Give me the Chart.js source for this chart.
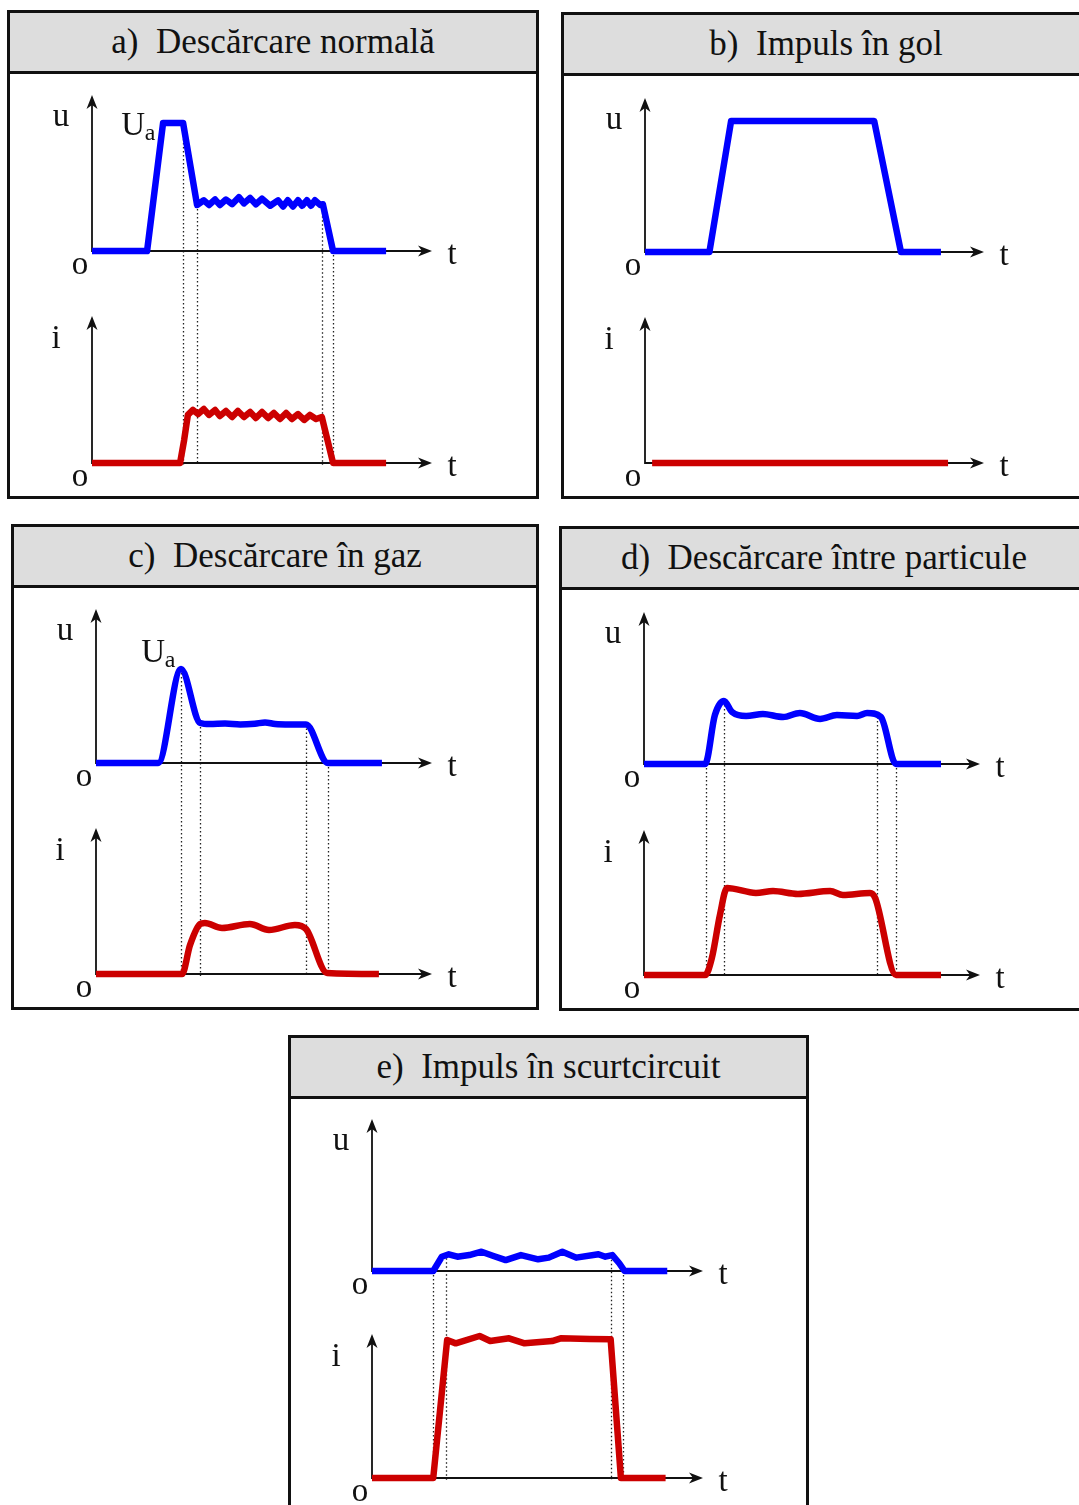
<!DOCTYPE html>
<html>
<head>
<meta charset="utf-8">
<script src="https://cdn.jsdelivr.net/npm/chart.js@4.4.1/dist/chart.umd.min.js"></script>
<style>
  body { margin: 0; width: 1079px; height: 1505px; overflow: hidden; background: #fff; position: relative; font-family: "Liberation Serif", serif; }
  .panel { position: absolute; box-sizing: border-box; border: 3px solid #111; background: #fff; }
  .panel .head { box-sizing: border-box; height: 61px; background: #dddddd; border-bottom: 3px solid #111;
    text-align: center; font-size: 35px; line-height: 58px; color: #111; white-space: pre; }
  canvas.plot { position: absolute; }
</style>
</head>
<body>
<script>
// t: 0 = origin, 100 = arrow tip; u, i: 0 = baseline, 100 = arrow tip

// a) normal discharge
const aUt = [0, 16.2, 20.9, 26.8, 30.9, 32.9, 34.4, 36.2, 37.6, 39.4, 41.2, 43.2, 44.7, 46.5, 48.2, 50.0, 52.4, 54.7, 56.2, 57.6, 59.1, 60.6, 61.8, 63.2, 64.4, 65.6, 67.1, 67.9, 70.9, 86.5];
const aUv = [0, 0, 82, 82, 29.5, 32.5, 29.5, 33, 29.5, 33, 30, 34.5, 30.5, 34, 30, 33.5, 29, 32.5, 28.5, 32.5, 28.5, 32.5, 29, 32.5, 29, 32.5, 29.5, 30, 0, 0];
const aIt = [0, 25.9, 27.1, 28.2, 29.7, 31.2, 32.9, 34.4, 36.2, 37.6, 39.4, 41.2, 42.9, 44.7, 46.5, 48.2, 50.0, 51.8, 53.5, 55.3, 57.1, 58.8, 60.6, 62.4, 64.1, 65.9, 67.6, 70.9, 86.5];
const aIv = [0, 0, 15.6, 32.7, 36.1, 33.3, 36.7, 32.7, 36.1, 32.0, 35.4, 31.3, 35.4, 31.3, 34.7, 30.6, 34.7, 30.6, 34.0, 29.9, 34.0, 29.9, 33.3, 29.3, 32.7, 29.9, 31.3, 0, 0];
const aGuideT = [26.8, 30.9, 67.6, 70.9];
const aGuideU = [82, 29.5, 30, 0];
const aUaLabel = [12.1, 80];

// b) open-circuit pulse
const bUt = [0, 19.0, 25.4, 67.6, 75.5, 87.3];
const bUv = [0, 0, 85.1, 85.1, 0, 0];
const bIt = [2.1, 89.4];
const bIv = [0, 0];

// c) gas discharge
const cUt = [0, 18.5, 25.3, 31.0, 33.9, 38.4, 42.9, 47.3, 50.3, 53.3, 57.7, 62.5, 69.0, 85.1];
const cUv = [0, 0, 61.0, 26.0, 25.3, 25.6, 25.0, 25.5, 26.3, 25.3, 25.0, 25.0, 0, 0];
const cIt = [0, 25.6, 28.0, 31.0, 32.4, 37.5, 45.8, 51.5, 59.2, 62.5, 68.8, 84.2];
const cIv = [0, 0, 19.9, 34.2, 34.9, 31.5, 34.2, 30.1, 33.6, 30.8, 0.7, 0];
const cGuideT = [25.3, 31.0, 62.5, 69.0];
const cGuideU = [61, 26, 25, 0];
const cUaLabel = [17.0, 71.4];

// d) discharge between particles
const dUt = [0, 18.2, 21.1, 23.8, 26.2, 30.4, 35.4, 41.4, 46.4, 52.4, 57.4, 63.4, 66.4, 70.5, 75.0, 88.4];
const dUv = [0, 0, 32.2, 41.4, 34.2, 31.6, 32.9, 30.9, 33.6, 29.6, 32.2, 31.6, 33.6, 30.9, 0, 0];
const dIt = [0, 18.2, 20.2, 22.6, 24.7, 33.3, 38.4, 45.8, 55.4, 59.2, 67.3, 68.8, 75.0, 88.4];
const dIv = [0, 0, 11.7, 41.4, 60.0, 56.6, 57.9, 55.9, 57.9, 55.2, 56.6, 53.1, 0, 0];
const dGuideT = [18.6, 23.8, 69.3, 75.0];
const dGuideU = [0, 41.4, 31, 0];

// e) short-circuit pulse
const eUt = [0, 18.5, 21.1, 23.2, 25.8, 29.4, 33.1, 36.7, 40.4, 45.0, 50.2, 53.4, 57.5, 61.7, 68.4, 70.5, 72.6, 74.7, 76.3, 89.2];
const eUv = [0, 0, 9.4, 11.0, 9.4, 10.5, 12.7, 9.9, 7.2, 10.5, 7.7, 8.8, 12.7, 8.8, 11.0, 9.4, 10.5, 5.1, 0, 0];
const eIt = [0, 18.5, 22.7, 25.3, 32.5, 35.7, 41.4, 46.1, 54.4, 57.0, 65.8, 72.1, 75.2, 88.7];
const eIv = [0, 0, 95.8, 93.5, 98.6, 95.1, 97.0, 93.5, 95.1, 97.0, 96.5, 96.3, 0, 0];
const eGuideT = [18.3, 22.4, 72.3, 75.7];
const eGuideU = [0, 11, 10, 0];

const titles = ['a)  Descărcare normală', 'b)  Impuls în gol', 'c)  Descărcare în gaz',
                'd)  Descărcare între particule', 'e)  Impuls în scurtcircuit'];

const panels = [
  { title: titles[0], box: [7, 10, 532, 489], x0: 92, xTip: 432, uTop: 95, uBase: 251, iTop: 316, iBase: 463,
    uT: aUt, uV: aUv, iT: aIt, iV: aIv, gT: aGuideT, gU: aGuideU, ua: aUaLabel, smooth: false },
  { title: titles[1], box: [561, 12, 530, 487], x0: 645, xTip: 984, uTop: 98, uBase: 252, iTop: 317, iBase: 463,
    uT: bUt, uV: bUv, iT: bIt, iV: bIv, gT: [], gU: [], ua: null, smooth: false },
  { title: titles[2], box: [11, 524, 528, 486], x0: 96, xTip: 432, uTop: 609, uBase: 763, iTop: 828, iBase: 974,
    uT: cUt, uV: cUv, iT: cIt, iV: cIv, gT: cGuideT, gU: cGuideU, ua: cUaLabel, smooth: true },
  { title: titles[3], box: [559, 526, 530, 485], x0: 644, xTip: 980, uTop: 612, uBase: 764, iTop: 830, iBase: 975,
    uT: dUt, uV: dUv, iT: dIt, iV: dIv, gT: dGuideT, gU: dGuideU, ua: null, smooth: true },
  { title: titles[4], box: [288, 1035, 521, 480], x0: 372, xTip: 703, uTop: 1119, uBase: 1271, iTop: 1334, iBase: 1478,
    uT: eUt, uV: eUv, iT: eIt, iV: eIv, gT: eGuideT, gU: eGuideU, ua: null, smooth: false }
];

const INK = '#111';
const FONT = '33px "Liberation Serif", "Times New Roman", serif';

function arrowHead(ctx, x, y, dir) {
  ctx.beginPath();
  if (dir === 'up') {
    ctx.moveTo(x, y); ctx.lineTo(x - 5.5, y + 14); ctx.lineTo(x, y + 10); ctx.lineTo(x + 5.5, y + 14);
  } else {
    ctx.moveTo(x, y); ctx.lineTo(x - 14, y - 5.5); ctx.lineTo(x - 10, y); ctx.lineTo(x - 14, y + 5.5);
  }
  ctx.closePath();
  ctx.fill();
}

const axesPlugin = {
  id: 'uiAxes',
  beforeDatasetsDraw(chart, args, opts) {
    const ctx = chart.ctx;
    const x = chart.scales.x, yu = chart.scales.yu, yi = chart.scales.yi;
    const x0 = x.getPixelForValue(0), x1 = x.getPixelForValue(100);
    ctx.save();
    // dotted guides from the u curve down to the i baseline
    ctx.strokeStyle = '#222';
    ctx.lineWidth = 1.3;
    ctx.setLineDash([1.5, 2.5]);
    opts.gT.forEach((t, k) => {
      const gx = Math.round(x.getPixelForValue(t)) + 0.5;
      ctx.beginPath();
      ctx.moveTo(gx, yu.getPixelForValue(opts.gU[k]));
      ctx.lineTo(gx, yi.getPixelForValue(0) + 2);
      ctx.stroke();
    });
    ctx.setLineDash([]);
    // the two coordinate systems
    ctx.strokeStyle = INK;
    ctx.fillStyle = INK;
    ctx.lineWidth = 1.8;
    [yu, yi].forEach(s => {
      const yb = s.getPixelForValue(0), yt = s.getPixelForValue(100);
      ctx.beginPath();
      ctx.moveTo(x0, yt + 6); ctx.lineTo(x0, yb);
      ctx.lineTo(x1 - 6, yb);
      ctx.stroke();
      arrowHead(ctx, x0, yt, 'up');
      arrowHead(ctx, x1, yb, 'right');
    });
    ctx.restore();
  },
  afterDraw(chart, args, opts) {
    const ctx = chart.ctx;
    const x = chart.scales.x, yu = chart.scales.yu, yi = chart.scales.yi;
    const x0 = x.getPixelForValue(0), x1 = x.getPixelForValue(100);
    ctx.save();
    ctx.fillStyle = INK;
    ctx.font = FONT;
    ctx.textAlign = 'center';
    ctx.textBaseline = 'middle';
    ctx.fillText('u', x0 - 31, yu.getPixelForValue(100) + 22);
    ctx.fillText('i', x0 - 36, yi.getPixelForValue(100) + 23);
    [yu, yi].forEach(s => {
      const yb = s.getPixelForValue(0);
      ctx.fillText('o', x0 - 12, yb + 14);
      ctx.fillText('t', x1 + 20, yb + 4);
    });
    if (opts.ua) {
      const ux = x.getPixelForValue(opts.ua[0]), uy = yu.getPixelForValue(opts.ua[1]);
      ctx.fillText('U', ux, uy);
      ctx.font = '24px "Liberation Serif", "Times New Roman", serif';
      ctx.fillText('a', ux + 17, uy + 8);
    }
    ctx.restore();
  }
};

function pts(ts, vs) {
  return ts.map((t, k) => ({ x: t, y: vs[k] }));
}

panels.forEach(p => {
  const [bl, bt, bw, bh] = p.box;
  const panel = document.createElement('div');
  panel.className = 'panel';
  panel.style.left = bl + 'px';
  panel.style.top = bt + 'px';
  panel.style.width = bw + 'px';
  panel.style.height = bh + 'px';
  const head = document.createElement('div');
  head.className = 'head';
  head.textContent = p.title;
  panel.appendChild(head);
  document.body.appendChild(panel);

  const cl = bl + 3, ct = bt + 3 + 61, cw = bw - 6, ch = bt + bh - 3 - ct;
  const canvas = document.createElement('canvas');
  canvas.className = 'plot';
  canvas.width = cw;
  canvas.height = ch;
  canvas.style.left = cl + 'px';
  canvas.style.top = ct + 'px';
  document.body.appendChild(canvas);

  const pxU = (p.uBase - p.uTop) / 100;
  const pxI = (p.iBase - p.iTop) / 100;
  const lineStyle = {
    borderWidth: 6.5,
    pointRadius: 0,
    fill: false,
    clip: false,
    borderCapStyle: 'butt',
    borderJoinStyle: 'round',
    tension: 0,
    cubicInterpolationMode: p.smooth ? 'monotone' : 'default'
  };

  new Chart(canvas.getContext('2d'), {
    type: 'line',
    data: {
      datasets: [
        Object.assign({ label: 'u', data: pts(p.uT, p.uV), borderColor: '#0000ff', yAxisID: 'yu' }, lineStyle),
        Object.assign({ label: 'i', data: pts(p.iT, p.iV), borderColor: '#cc0000', yAxisID: 'yi' }, lineStyle)
      ]
    },
    options: {
      responsive: false,
      animation: false,
      events: [],
      layout: {
        padding: { left: p.x0 - cl, right: cl + cw - p.xTip, top: p.uTop - ct, bottom: ct + ch - p.iBase }
      },
      scales: {
        x: { type: 'linear', min: 0, max: 100, display: false },
        yu: { type: 'linear', min: -(p.iBase - p.uBase) / pxU, max: 100, display: false },
        yi: { type: 'linear', min: 0, max: (p.iBase - p.uTop) / pxI, display: false }
      },
      plugins: {
        legend: { display: false },
        tooltip: { enabled: false },
        uiAxes: { gT: p.gT, gU: p.gU, ua: p.ua }
      }
    },
    plugins: [axesPlugin]
  });
});
</script>
</body>
</html>
